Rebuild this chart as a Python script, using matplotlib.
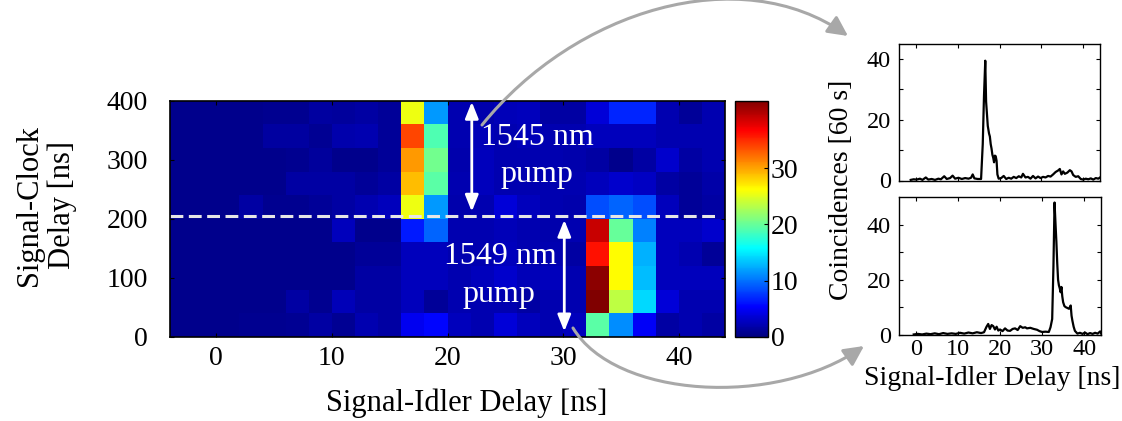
import numpy as np
import matplotlib
matplotlib.use("Agg")
import matplotlib.pyplot as plt
from matplotlib.colors import LinearSegmentedColormap, Normalize
from matplotlib.patches import FancyArrowPatch
from matplotlib.path import Path
from matplotlib.ticker import FuncFormatter

plt.rcParams['font.family'] = ['Liberation Serif', 'DejaVu Serif']

# ---------------- data ----------------
# heat-map bins
idler_edges = np.arange(-4, 45, 2)        # Signal-Idler delay bin edges [ns] (24 bins)
clock_edges = np.arange(0, 401, 40)       # Signal-Clock delay bin edges [ns] (10 bins)
# coincidence counts, rows listed from top (360-400 ns) to bottom (0-40 ns)
counts_top_to_bottom = np.array([
    [0.6, 0.5, 0.6, 0.6, 0.7, 0.8, 1.4, 1.3, 1.6, 1.0, 25.5, 11.6, 2.1, 1.9, 2.3, 2.6, 1.6, 1.6, 3.7, 6.8, 6.8, 2.1, 1.0, 2.1],
    [0.5, 0.5, 0.6, 0.6, 1.4, 1.4, 0.9, 1.9, 2.1, 1.0, 33.9, 18.9, 2.1, 2.4, 2.1, 2.4, 2.1, 2.1, 2.6, 2.6, 2.6, 2.1, 2.1, 2.1],
    [0.5, 0.5, 0.5, 0.6, 0.6, 0.7, 1.3, 0.6, 0.5, 1.0, 30.5, 20.5, 1.9, 2.6, 2.1, 2.1, 2.1, 1.9, 1.6, 0.5, 1.6, 3.2, 1.6, 2.1],
    [0.5, 0.5, 0.5, 0.6, 0.6, 1.6, 1.5, 1.5, 1.0, 1.6, 28.9, 19.4, 2.1, 2.6, 2.1, 2.1, 2.1, 2.1, 2.6, 3.2, 2.9, 1.6, 1.0, 1.7],
    [0.5, 0.5, 0.6, 1.6, 0.8, 0.8, 1.0, 1.5, 2.1, 2.6, 25.5, 11.6, 1.9, 2.1, 3.7, 2.6, 2.1, 1.9, 8.4, 9.5, 8.4, 2.6, 1.0, 1.6],
    [0.5, 0.5, 0.5, 0.5, 0.5, 0.6, 0.6, 2.6, 0.5, 0.6, 6.3, 9.5, 2.1, 2.1, 2.4, 2.1, 1.9, 2.1, 38.9, 20.0, 10.5, 2.6, 2.6, 3.2],
    [0.5, 0.5, 0.5, 0.5, 0.5, 0.5, 0.6, 0.6, 1.0, 1.0, 2.6, 2.6, 2.1, 2.1, 2.6, 2.1, 2.1, 1.6, 36.0, 26.3, 12.6, 2.6, 2.1, 1.0],
    [0.5, 0.5, 0.5, 0.5, 0.5, 0.6, 0.6, 0.6, 1.6, 1.6, 2.6, 2.6, 2.1, 2.6, 3.2, 2.4, 2.6, 2.1, 41.5, 26.3, 13.1, 2.6, 2.6, 2.6],
    [0.5, 0.5, 0.5, 0.5, 0.6, 1.6, 0.7, 2.3, 1.6, 1.6, 2.6, 1.0, 2.1, 2.1, 2.1, 1.6, 2.1, 2.1, 42.0, 23.6, 14.2, 3.7, 2.1, 2.1],
    [0.6, 0.6, 0.6, 0.7, 0.8, 0.9, 1.6, 0.9, 2.1, 1.6, 4.7, 5.5, 2.6, 2.1, 3.7, 2.6, 2.1, 2.6, 19.4, 11.0, 5.0, 1.6, 2.1, 1.6],
])
color_max = 42
pump_boundary = 205          # ns, dashed line
cbar_ticks = [0, 10, 20, 30]

# 1545 nm pump histogram
top_delay = [-1.2, -0.5, 0.2, 1.0, 1.6, 2.4, 3.0, 3.8, 4.6, 5.4, 6.0, 6.8, 7.4, 8.2, 8.8, 9.4, 10.2,
             11.0, 11.8, 12.6, 13.2, 13.6, 14.0, 14.8, 15.6, 16.0, 16.3, 16.6, 16.8, 17.0, 17.2, 17.5,
             17.7, 17.9, 18.1, 18.3, 18.5, 18.7, 18.9, 19.1, 19.3, 19.5, 19.8, 20.4, 21.0, 21.6, 22.2,
             22.8, 23.4, 24.0, 24.6, 25.2, 25.6, 26.2, 26.8, 27.4, 28.0, 28.6, 29.2, 29.8, 30.4, 31.0,
             31.6, 32.2, 32.8, 33.4, 34.0, 34.4, 34.8, 35.2, 35.6, 36.2, 36.8, 37.2, 37.6, 38.2, 38.8,
             39.4, 40.0, 40.6, 41.2, 41.8, 42.4, 43.0, 43.6, 44.0]
top_counts = [0.2, 0.4, 0.3, 0.6, 0.2, 1.0, 0.3, 0.5, 0.2, 0.6, 0.4, 1.4, 0.5, 0.8, 1.6, 0.6, 0.9,
              0.5, 0.8, 0.6, 0.9, 2.0, 0.7, 0.5, 0.5, 12.0, 28.0, 39.5, 26.0, 22.0, 18.0, 15.5,
              14.5, 12.0, 10.5, 8.5, 7.5, 6.0, 8.2, 8.0, 6.5, 2.0, 0.6, 0.8, 1.5, 0.5, 0.9,
              0.6, 1.2, 0.8, 1.4, 1.0, 2.2, 1.0, 1.2, 0.6, 1.5, 0.7, 1.3, 0.8, 1.2, 1.0,
              1.5, 1.3, 2.0, 2.8, 3.3, 3.8, 2.0, 3.0, 2.2, 2.6, 3.4, 3.0, 1.8, 1.2, 1.4,
              0.5, 0.3, 0.6, 0.4, 0.7, 0.3, 0.8, 0.6, 1.0]

# 1549 nm pump histogram
bot_delay = [-0.5, 0.5, 1.5, 2.5, 3.5, 4.5, 5.5, 6.5, 7.5, 8.5, 9.5, 10.5, 11.5, 12.5, 13.5, 14.5,
             15.5, 16.2, 16.8, 17.2, 17.6, 18.0, 18.4, 18.8, 19.2, 19.6, 20.0, 20.6, 21.2, 21.8, 22.4,
             23.0, 23.6, 24.2, 24.8, 25.4, 26.0, 26.4, 27.2, 28.0, 28.8, 29.4, 30.0, 30.8, 31.6, 32.0,
             32.4, 32.7, 32.96, 33.2, 33.4, 33.6, 33.8, 34.0, 34.2, 34.4, 34.6, 34.8, 35.0, 35.3, 35.6,
             36.0, 36.4, 36.8, 37.0, 37.2, 37.5, 37.8, 38.4, 39.0, 39.6, 40.2, 40.8, 41.4, 42.0, 42.6,
             43.2, 43.8, 44.0]
bot_counts = [0.2, 0.4, 0.2, 0.5, 0.3, 0.6, 0.3, 0.7, 0.4, 0.6, 0.4, 0.8, 0.5, 0.9, 0.6, 1.0,
              0.7, 1.0, 3.0, 4.0, 2.2, 3.6, 3.2, 2.0, 3.0, 1.6, 2.0, 1.4, 2.4, 1.6, 1.5,
              2.2, 2.4, 1.8, 3.2, 2.6, 2.8, 2.4, 2.6, 2.2, 1.9, 1.4, 1.1, 1.2, 1.1, 2.8,
              5.8, 25.0, 48.0, 40.0, 33.7, 26.0, 20.0, 18.0, 16.9, 15.5, 17.4, 14.0, 11.9, 10.5, 10.1,
              9.8, 9.5, 10.7, 7.0, 5.2, 3.0, 1.5, 0.5, 0.8, 0.4, 0.9, 0.3, 0.7, 0.4, 0.8,
              0.5, 1.3, 0.6]

# ---------------- figure ----------------
W, H = 1122, 421
fig = plt.figure(figsize=(W / 100, H / 100), dpi=100)


def px_axes(l, t, r, b):
    return fig.add_axes([l / W, 1 - b / H, (r - l) / W, (b - t) / H])


jet_m = LinearSegmentedColormap.from_list(
    'jet_matlab',
    [(0.0, (0, 0, 0.5)), (0.125, (0, 0, 1)), (0.375, (0, 1, 1)),
     (0.625, (1, 1, 0)), (0.875, (1, 0, 0)), (1.0, (0.5, 0, 0))], N=256)

ax = px_axes(170, 100.7, 725, 336.7)
cax = px_axes(735, 100.7, 768, 336.7)
ax_t = px_axes(899, 44, 1100, 180.5)
ax_b = px_axes(899, 197, 1101, 335)

norm = Normalize(vmin=0, vmax=color_max)
mesh = ax.pcolormesh(idler_edges, clock_edges, counts_top_to_bottom[::-1],
                     cmap=jet_m, norm=norm, shading='flat')
ax.set_xlim(-4, 44)
ax.set_ylim(0, 400)
ax.set_xticks([0, 10, 20, 30, 40])
ax.set_yticks([0, 100, 200, 300, 400])
ax.tick_params(axis='both', direction='in', top=True, right=True, length=3,
               width=0.8, labelsize=20)
ax.tick_params(axis='x', pad=7)
ax.tick_params(axis='y', pad=16)
for s in ax.spines.values():
    s.set_linewidth(1.2)

ax.axhline(pump_boundary, xmin=0, xmax=0.99, color='#e6e6e6', lw=2.2,
           ls=(0, (4.2, 1.8)))

ax.set_xlabel('Signal-Idler Delay [ns]', fontsize=22)
ax.xaxis.set_label_coords((467 - 170) / 555, (336.7 - 403) / 236)
ax.xaxis.label.set_verticalalignment('center')
ax.set_ylabel('Signal-Clock\nDelay [ns]', fontsize=22, linespacing=1.15)
ax.yaxis.label.set_verticalalignment('center')
ax.yaxis.set_label_coords((46 - 170) / 555, (336.7 - 205) / 236)

# white double arrows and pump labels
arrow_kw = dict(arrowstyle='<|-|>,head_length=0.55,head_width=0.22', color='white',
                lw=2, shrinkA=0, shrinkB=0, mutation_scale=18)
ax.annotate('', xy=(22.1, 398), xytext=(22.1, 212), arrowprops=arrow_kw)
ax.annotate('', xy=(30.1, 198), xytext=(30.1, 9), arrowprops=arrow_kw)
ax.text(27.75, 325, '1545 nm', color='white', fontsize=23, ha='center', va='baseline')
ax.text(27.7, 263, 'pump', color='white', fontsize=23, ha='center', va='baseline')
ax.text(24.6, 124, '1549 nm', color='white', fontsize=23, ha='center', va='baseline')
ax.text(24.45, 59, 'pump', color='white', fontsize=23, ha='center', va='baseline')

# colorbar
cb = fig.colorbar(mesh, cax=cax, ticks=cbar_ticks)
cb.outline.set_linewidth(1.0)
cax.tick_params(direction='in', length=3, width=0.8, labelsize=20, pad=2)

# 1D histograms
label_0_20_40 = FuncFormatter(lambda v, p: f'{v:.0f}' if int(round(v)) % 20 == 0 else '')
for a, xs, ys, ymax in [(ax_t, top_delay, top_counts, 45), (ax_b, bot_delay, bot_counts, 50)]:
    a.plot(xs, ys, color='black', lw=1.6)
    a.set_xlim(-4, 44)
    a.set_ylim(0, ymax)
    a.set_xticks([0, 10, 20, 30, 40])
    a.set_yticks([0, 10, 20, 30, 40])
    a.yaxis.set_major_formatter(label_0_20_40)
    a.tick_params(direction='in', top=True, right=True, length=3, width=0.8, labelsize=17.5)
    a.tick_params(axis='y', pad=6)
    a.tick_params(axis='x', pad=3)
    for s in a.spines.values():
        s.set_linewidth(1.0)
ax_t.tick_params(labelbottom=False)
ax_b.set_xlabel('Signal-Idler Delay [ns]', fontsize=20)
ax_b.xaxis.set_label_coords((992 - 899) / 202, (335 - 366) / 138)
ax_b.xaxis.label.set_verticalalignment('top')
fig.text(841 / W, 1 - 190 / H, 'Coincidences [60 s]', rotation=90, fontsize=20,
         ha='center', va='center')


# grey curved connector arrows (figure pixel coordinates, origin top-left)
def px(x, y):
    return (x / W, 1 - y / H)


def connector(p0, p1, p2, p3):
    path = Path([px(*p0), px(*p1), px(*p2), px(*p3)],
                [Path.MOVETO, Path.CURVE4, Path.CURVE4, Path.CURVE4])
    arr = FancyArrowPatch(path=path, arrowstyle='-|>,head_length=0.6,head_width=0.3',
                          mutation_scale=20, color='#a8a8a8', lw=2.2,
                          transform=fig.transFigure)
    fig.add_artist(arr)


connector((482, 125), (575, 10), (740, -40), (848, 36))
connector((573, 328), (615, 398), (775, 408), (864, 346))

fig.savefig('out.png', dpi=100)
